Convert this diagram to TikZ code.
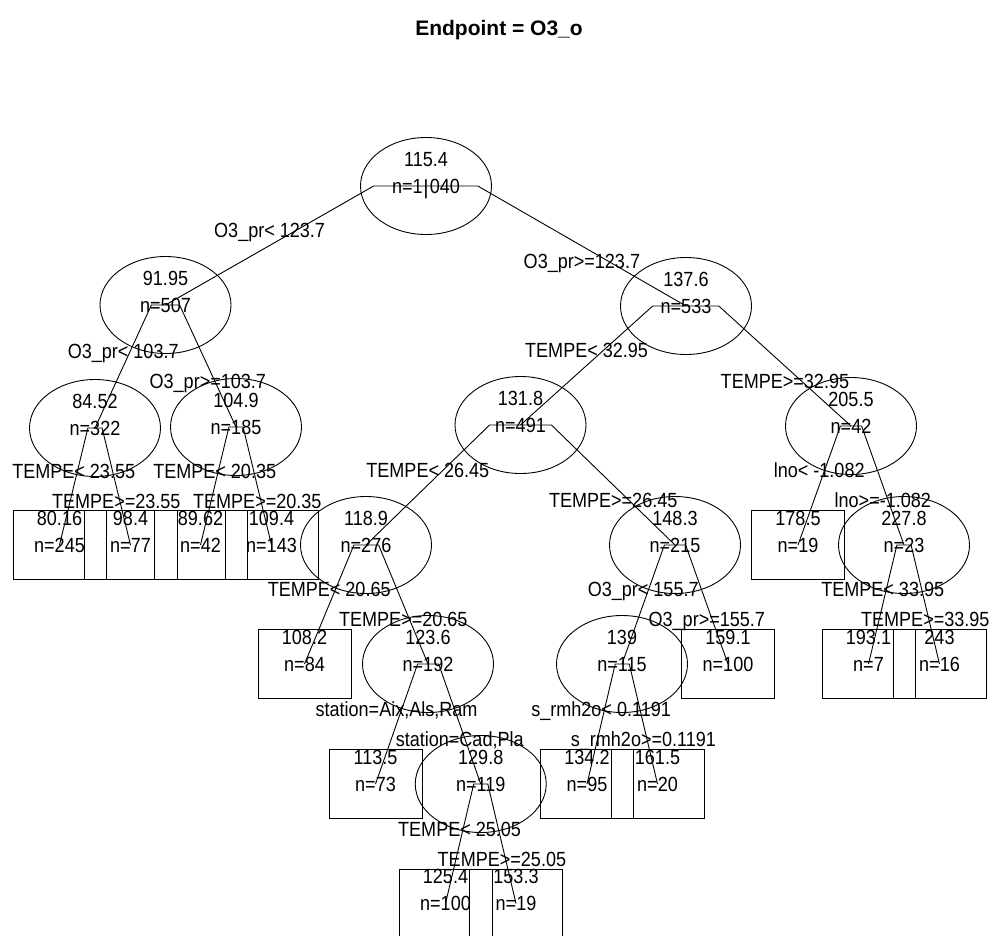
\documentclass[tikz,border=0pt]{standalone}
\usepackage{fontspec}
\setmainfont{Liberation Sans}
\newfontfamily\treefont[FakeStretch=0.88]{Liberation Sans}
\usetikzlibrary{calc,shapes.geometric}
\tikzset{
  ell/.style={draw, ellipse, minimum width=131pt, minimum height=97pt, inner sep=0pt, line width=0.9pt},
  leafbox/.style={draw, rectangle, minimum width=93pt, minimum height=69pt, inner sep=0pt, line width=0.9pt},
  edge/.style={line width=0.9pt},
  txt/.style={inner sep=0pt, text height=14.7pt, text depth=0pt, font=\treefont\fontsize{20.5}{24}\selectfont},
}
% #1 style, #2 name, #3 position, #4 value, #5 count
\newcommand\treenode[5]{%
  \node[#1] (#2) at (#3) {};
  \node[txt] (#2-v) at ($(#2.center)+(0,27pt)$) {#4};
  \node[txt] (#2-n) at (#2.center) {#5};
}
% #1 parent, #2 left child, #3 right child, #4 left label, #5 right label
\newcommand\tbranch[5]{%
  \coordinate (#1-bl) at ($(#2.center)!0.4!(#3.center)$);
  \coordinate (#1-br) at ($(#2.center)!0.6!(#3.center)$);
  \coordinate (#1-pl) at (#1-bl |- #1.center);
  \coordinate (#1-pr) at (#1-br |- #1.center);
  \draw[edge] (#2.center) -- (#1-pl) -- (#1-pr) -- (#3.center);
  \node[txt] (#1-ll) at ($(#2.center)!0.5!(#1-pl)+(0,15pt)$) {#4};
  \node[txt] (#1-rl) at ($(#3.center)!0.5!(#1-pr)+(0,-15pt)$) {#5};
}
\begin{document}
\begin{tikzpicture}[x=1pt,y=-1pt]
\path[use as bounding box] (0,0) rectangle (993,935);
\clip (0,0) rectangle (993,935);

\node[font=\bfseries\fontsize{21}{25}\selectfont, inner sep=0pt, anchor=base] (title) at (499,35) {Endpoint = O3\_o};

% internal nodes
\treenode{ell}{root}{426,186}{115.4}{n=1\kern7pt 040}
\treenode{ell}{A}{165.5,305}{91.95}{n=507}
\treenode{ell}{D}{686,306}{137.6}{n=533}
\treenode{ell}{B}{95,428}{84.52}{n=322}
\treenode{ell}{C}{236,427}{104.9}{n=185}
\treenode{ell}{E}{520.5,425}{131.8}{n=491}
\treenode{ell}{F}{851,426}{205.5}{n=42}
\treenode{ell}{G}{366,545}{118.9}{n=276}
\treenode{ell}{H}{675,545}{148.3}{n=215}
\treenode{ell}{L}{904,545}{227.8}{n=23}
\treenode{ell}{I}{428,664}{123.6}{n=192}
\treenode{ell}{K}{622,664}{139}{n=115}
\treenode{ell}{J}{480.75,784}{129.8}{n=119}
\node[inner sep=0pt, font=\fontsize{20.5}{24}\selectfont] (root-bar) at (426,189) {|};

% leaves
\treenode{leafbox}{l1}{59.5,545}{80.16}{n=245}
\treenode{leafbox}{l2}{130.5,545}{98.4}{n=77}
\treenode{leafbox}{l3}{200.5,545}{89.62}{n=42}
\treenode{leafbox}{l4}{271.5,545}{109.4}{n=143}
\treenode{leafbox}{l5}{304.5,664}{108.2}{n=84}
\treenode{leafbox}{l6}{375.5,784}{113.5}{n=73}
\treenode{leafbox}{l7}{445.5,903.5}{125.4}{n=100}
\treenode{leafbox}{l8}{516,903.5}{153.3}{n=19}
\treenode{leafbox}{l9}{587,784}{134.2}{n=95}
\treenode{leafbox}{l10}{657.5,784}{161.5}{n=20}
\treenode{leafbox}{l11}{728,664}{159.1}{n=100}
\treenode{leafbox}{l12}{798,545}{178.5}{n=19}
\treenode{leafbox}{l13}{868.5,664}{193.1}{n=7}
\treenode{leafbox}{l14}{939.5,664}{243}{n=16}

% branches
\tbranch{root}{A}{D}{O3\_pr< 123.7}{O3\_pr>=123.7}
\tbranch{A}{B}{C}{O3\_pr< 103.7}{O3\_pr>=103.7}
\tbranch{B}{l1}{l2}{TEMPE< 23.55}{TEMPE>=23.55}
\tbranch{C}{l3}{l4}{TEMPE< 20.35}{TEMPE>=20.35}
\tbranch{D}{E}{F}{TEMPE< 32.95}{TEMPE>=32.95}
\tbranch{E}{G}{H}{TEMPE< 26.45}{TEMPE>=26.45}
\tbranch{G}{l5}{I}{TEMPE< 20.65}{TEMPE>=20.65}
\tbranch{I}{l6}{J}{station=Aix,Als,Ram}{station=Cad,Pla}
\tbranch{J}{l7}{l8}{TEMPE< 25.05}{TEMPE>=25.05}
\tbranch{H}{K}{l11}{O3\_pr< 155.7}{O3\_pr>=155.7}
\tbranch{K}{l9}{l10}{s\_rmh2o< 0.1191}{s\_rmh2o>=0.1191}
\tbranch{F}{l12}{L}{lno< -1.082}{lno>=-1.082}
\tbranch{L}{l13}{l14}{TEMPE< 33.95}{TEMPE>=33.95}
\end{tikzpicture}
\end{document}
